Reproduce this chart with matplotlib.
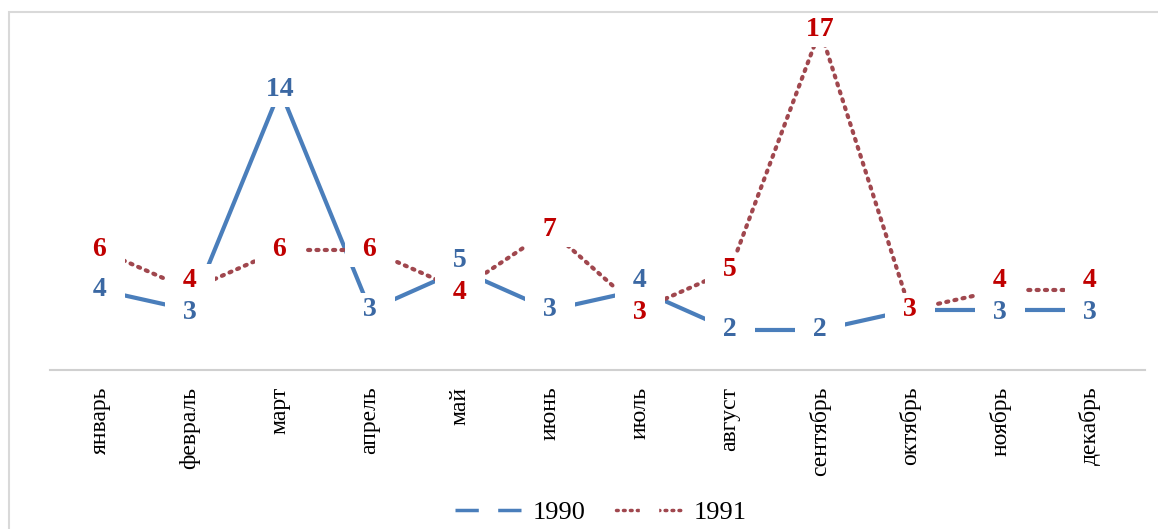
"""
Линейный график по месяцам: 1990 и 1991
"""
import matplotlib
matplotlib.use('Agg')
import matplotlib.pyplot as plt
import matplotlib.patches as patches
from matplotlib.lines import Line2D

plt.rcParams['font.family'] = ['Liberation Serif', 'DejaVu Serif']

# данные
months = ['январь', 'февраль', 'март', 'апрель', 'май', 'июнь',
          'июль', 'август', 'сентябрь', 'октябрь', 'ноябрь', 'декабрь']
values_1990 = [4, 3, 14, 3, 5, 3, 4, 2, 2, 3, 3, 3]
values_1991 = [6, 4, 6, 6, 4, 7, 3, 5, 17, 3, 4, 4]

blue_line = '#4a7ebb'
blue_text = '#3b68a3'
red_line = '#a0474e'
red_text = '#c00000'
dots = (0, (0.5, 1.5))

fig = plt.figure(figsize=(11.58, 5.29), dpi=100)
ax = fig.add_axes([0.0432, 0.3006, 0.9456, 0.6616])

x = list(range(len(months)))

# линии
ax.plot(x, values_1990, color=blue_line, linewidth=3, solid_capstyle='butt', zorder=2)
ax.plot(x, values_1991, color=red_line, linewidth=3, linestyle=dots,
        dash_capstyle='round', zorder=3)

# подписи данных с белым фоном (перекрывают линии);
# близкие подписи одного месяца немного раздвигаем
box = dict(boxstyle='square,pad=0.15', facecolor='white', edgecolor='none')
for xi, a, b in zip(x, values_1990, values_1991):
    da, db = 0.0, 0.0
    if abs(a - b) == 1:
        if a > b:
            da, db = 0.45, -0.15
        else:
            da, db = -0.15, 0.45
    ax.text(xi, a + da, f'\u2002{a}\u2002', ha='center', va='center', fontsize=20,
            fontweight='bold', color=blue_text, bbox=box, zorder=5)
    ax.text(xi, b + db, f'\u2002{b}\u2002', ha='center', va='center', fontsize=20,
            fontweight='bold', color=red_text, bbox=box, zorder=6)

ax.set_xlim(-0.556, 11.61)
ax.set_ylim(0, 17.5)
ax.set_xticks(x)
ax.set_xticklabels(months, rotation=90, fontsize=17)
ax.tick_params(axis='x', length=0, pad=12)
ax.set_yticks([])
for s in ['top', 'right', 'left']:
    ax.spines[s].set_visible(False)
ax.spines['bottom'].set_color('#d0d0d0')
ax.spines['bottom'].set_linewidth(1.5)

# легенда: линия с разрывом посередине
h1990 = Line2D([], [], color=blue_line, linewidth=2.5, solid_capstyle='butt',
               marker='s', markersize=13, markerfacecolor='white', markeredgecolor='white')
h1991 = Line2D([], [], color=red_line, linewidth=2.5, linestyle=dots,
               dash_capstyle='round',
               marker='s', markersize=13, markerfacecolor='white', markeredgecolor='white')
fig.legend([h1990, h1991], ['1990', '1991'], loc='center', ncol=2,
           bbox_to_anchor=(0.519, 0.032), frameon=False, fontsize=19,
           handlelength=2.5, columnspacing=1.15, handletextpad=0.45,
           borderpad=0.1)

# рамка вокруг диаграммы
frame = patches.Rectangle((0.008, -0.05), 1.1, 1.027, transform=fig.transFigure,
                          fill=False, edgecolor='#d9d9d9', linewidth=1.5)
fig.add_artist(frame)

plt.savefig('out.png', dpi=100)
